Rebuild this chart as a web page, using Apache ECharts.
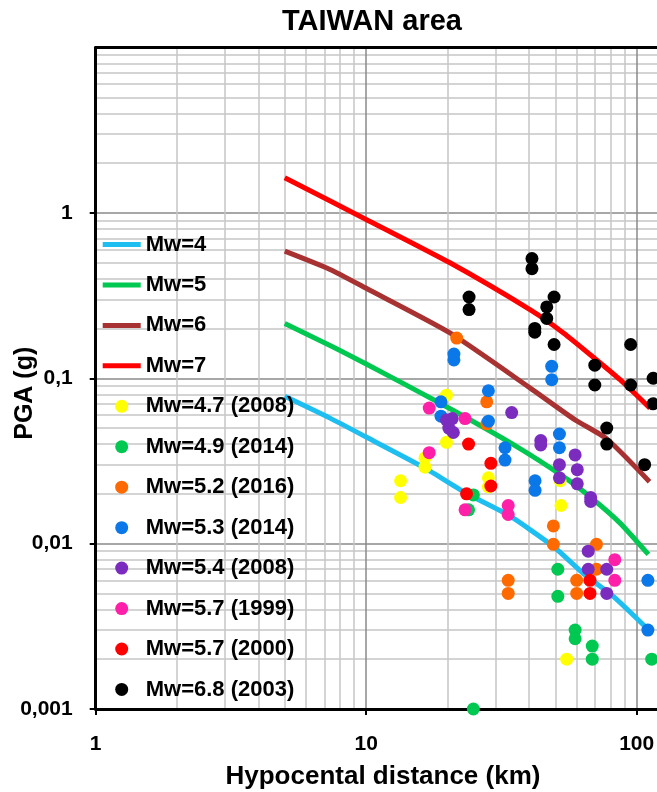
<!DOCTYPE html>
<html>
<head>
<meta charset="utf-8">
<script src="https://cdn.jsdelivr.net/npm/echarts@6/dist/echarts.min.js"></script>
<style>html,body{margin:0;padding:0;background:#fff}#c{width:657px;height:792px}</style>
</head>
<body>
<div id="c"></div>
<script>
// ---- data ----
const titleText = 'TAIWAN area';
const xName = 'Hypocental distance (km)';
const yName = 'PGA (g)';
const xTickLabels = {0: '1', 1: '10', 2: '100'};
const yTickLabels = {'-3': '0,001', '-2': '0,01', '-1': '0,1', '0': '1'};
const yTickValues = [0.001, 0.01, 0.1, 1];

const lineNames = ['Mw=4', 'Mw=5', 'Mw=6', 'Mw=7'];
const curveMw4 = [[5,0.0778],[7.35,0.0574],[10,0.0441],[16.5,0.0286],[23.5,0.0201],[33.5,0.0149],[49.2,0.0096],[63.5,0.0066],[81.9,0.0048],[108.6,0.0031]];
const curveMw5 = [[5,0.214],[7.35,0.158],[10,0.122],[18.7,0.0708],[36,0.0386],[53.6,0.0254],[67.2,0.0192],[86.8,0.0133],[110.4,0.0086]];
const curveMw6 = [[5,0.587],[7.35,0.455],[10,0.35],[20.4,0.188],[40.3,0.0875],[59.2,0.056],[77.5,0.043],[111.5,0.0237]];
const curveMw7 = [[5,1.63],[10,0.913],[20.4,0.499],[40.3,0.26],[53.6,0.188],[71.1,0.129],[86.8,0.098],[111.9,0.066]];

const eqNames = ['Mw=4.7 (2008)','Mw=4.9 (2014)','Mw=5.2 (2016)','Mw=5.3 (2014)','Mw=5.4 (2008)','Mw=5.7 (1999)','Mw=5.7 (2000)','Mw=6.8 (2003)'];
const eq47_2008 = [[19.8,0.079],[19.8,0.041],[16.5,0.033],[16.5,0.029],[13.4,0.024],[13.4,0.019],[28.3,0.025],[28.3,0.022],[52.1,0.024],[52.5,0.017],[55.1,0.002]];
const eq49_2014 = [[24.9,0.0197],[23.9,0.016],[51.1,0.007],[51.1,0.0048],[59.2,0.003],[59.2,0.00266],[68.5,0.0024],[68.5,0.002],[113.6,0.002],[24.9,0.001]];
const eq52_2016 = [[21.6,0.175],[27.9,0.072],[27.9,0.053],[49.2,0.0128],[49.2,0.0099],[33.5,0.006],[33.5,0.005],[71,0.0099],[60,0.006],[60,0.005],[71,0.007]];
const eq53_2014 = [[21.1,0.14],[21.1,0.129],[28.3,0.084],[48.5,0.118],[48.5,0.098],[18.9,0.072],[18.9,0.059],[28.3,0.055],[32.6,0.038],[32.6,0.032],[42.1,0.024],[42.1,0.021],[51.8,0.046],[51.8,0.038],[110,0.006],[110,0.003]];
const eq54_2008 = [[34.5,0.062],[19.8,0.056],[20.8,0.057],[20.2,0.05],[21,0.047],[44.2,0.042],[44.2,0.0395],[59.2,0.0344],[51.8,0.03],[51.8,0.025],[60.3,0.028],[60.3,0.023],[67.6,0.019],[67.6,0.018],[66.2,0.009],[66.2,0.007],[77.5,0.007],[77.5,0.005]];
const eq57_1999 = [[17.1,0.066],[23.2,0.057],[17.1,0.0355],[23.2,0.016],[33.5,0.017],[33.5,0.015],[83,0.008],[83,0.006]];
const eq57_2000 = [[23.9,0.04],[28.9,0.0306],[28.9,0.0223],[23.5,0.02],[67.2,0.006],[67.2,0.005]];
const eq68_2003 = [[24,0.31],[24,0.26],[41,0.53],[41,0.46],[42,0.2],[42,0.19],[46.5,0.27],[46.5,0.23],[49.5,0.31],[49.5,0.16],[70,0.12],[70,0.091],[77.5,0.05],[77.5,0.04],[95,0.16],[95,0.091],[107,0.03],[115,0.1],[115,0.07]];

// ---- styles ----
const lineColors = ['#1EBFF0', '#00C850', '#A83232', '#FF0000'];
const eqColors = ['#FFFF00', '#00C850', '#FF6A00', '#0A78E8', '#7B2CBF', '#FF1FA8', '#FF0000', '#000000'];
const FONT = '"Liberation Sans", Arial, sans-serif';

const curves = [curveMw4, curveMw5, curveMw6, curveMw7];
const eqs = [eq47_2008, eq49_2014, eq52_2016, eq53_2014, eq54_2008, eq57_1999, eq57_2000, eq68_2003];

const series = [];
curves.forEach((d, i) => series.push({
  name: lineNames[i], type: 'line', data: d, symbol: 'none', showSymbol: false, smooth: 0.2,
  lineStyle: {color: lineColors[i], width: 5}, itemStyle: {color: lineColors[i]}, z: 2
}));
eqs.forEach((d, i) => series.push({
  name: eqNames[i], type: 'scatter', data: d, symbol: 'circle', symbolSize: 13,
  itemStyle: {color: eqColors[i], opacity: 1}, z: 3 + i
}));

const lineIcon = 'path://M0,0 L38,0 L38,5 L0,5 Z';
const legendData = lineNames.map(n => ({name: n, icon: lineIcon})).concat(eqNames.map(n => ({name: n, icon: 'circle'})));

const chart = echarts.init(document.getElementById('c'), null, {renderer: 'canvas'});
const axisFont = {color: '#000', fontWeight: 'bold', fontFamily: FONT};
chart.setOption({
  animation: false,
  backgroundColor: '#fff',
  title: {text: titleText, left: 282, top: 7, padding: 0,
    textStyle: {color: '#000', fontWeight: 'bold', fontSize: 29, fontFamily: FONT}},
  grid: {left: 95.7, top: 47.5, bottom: 83, right: -250.2, containLabel: false, outerBoundsMode: 'none'},
  legend: {
    orient: 'vertical', left: 102.7, top: 233.5, padding: 0,
    itemWidth: 38, itemHeight: 13, itemGap: 18.45,
    lineStyle: {width: 5},
    textStyle: {color: '#000', fontWeight: 'bold', fontSize: 22, fontFamily: FONT},
    data: legendData
  },
  xAxis: [{
    type: 'log', logBase: 10, min: 1, max: 1000, position: 'bottom',
    name: xName, nameLocation: 'middle', nameGap: 55, nameMoveOverlap: false,
    nameTextStyle: Object.assign({fontSize: 26, padding: [0, 237, 0, 0]}, axisFont),
    axisLine: {show: true, lineStyle: {color: '#000', width: 3}},
    axisTick: {show: true, length: 6, lineStyle: {color: '#000', width: 2}},
    axisLabel: Object.assign({fontSize: 21, margin: 25,
      formatter: v => { const e = Math.round(Math.log10(v)); return xTickLabels[e] !== undefined ? xTickLabels[e] : ''; }}, axisFont),
    splitLine: {show: true, lineStyle: {color: '#8a8a8a', width: 1.5}},
    minorTick: {show: false, splitNumber: 9},
    minorSplitLine: {show: true, lineStyle: {color: '#c6c6c6', width: 1.5}}
  }, {
    type: 'log', logBase: 10, min: 1, max: 1000, position: 'top',
    axisLine: {show: true, lineStyle: {color: '#000', width: 3}},
    axisTick: {show: false}, axisLabel: {show: false}, splitLine: {show: false}
  }],
  yAxis: {
    type: 'log', logBase: 10, min: 0.001, max: 10,
    name: yName, nameLocation: 'middle', nameGap: 58, nameMoveOverlap: false,
    nameTextStyle: Object.assign({fontSize: 25, padding: [0, 30, 0, 0]}, axisFont),
    axisLine: {show: true, lineStyle: {color: '#000', width: 3}},
    axisTick: {show: true, length: 6, customValues: yTickValues, lineStyle: {color: '#000', width: 2}},
    axisLabel: Object.assign({fontSize: 21, margin: 23,
      formatter: v => { const e = Math.round(Math.log10(v)); return yTickLabels[e] !== undefined ? yTickLabels[e] : ''; }}, axisFont),
    splitLine: {show: true, lineStyle: {color: '#8a8a8a', width: 1.5}},
    minorTick: {show: false, splitNumber: 9},
    minorSplitLine: {show: true, lineStyle: {color: '#c6c6c6', width: 1.5}}
  },
  series: series
});
</script>
</body>
</html>
